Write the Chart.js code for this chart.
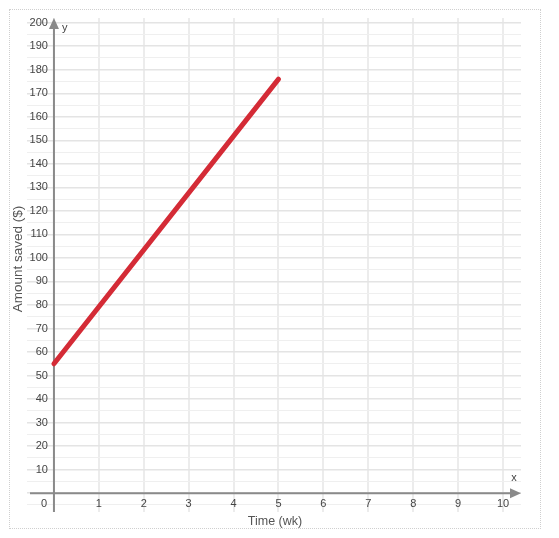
<!DOCTYPE html>
<html>
<head>
<meta charset="utf-8">
<script src="https://cdn.jsdelivr.net/npm/chart.js@4/dist/chart.umd.min.js"></script>
<style>
  body { margin: 0; background: #fff; }
  #frame { position: absolute; left: 9px; top: 9px; width: 530px; height: 518px; border: 1px dotted #cfcfcf; }
  #savingsChart { position: absolute; left: 0; top: 0; }
</style>
</head>
<body>
<div id="frame"></div>
<canvas id="savingsChart" width="559" height="538"></canvas>
<script>
const weeks = [0, 5];
const saved = [55, 176];
const xTicks = [1, 2, 3, 4, 5, 6, 7, 8, 9, 10];
const yTicks = [10, 20, 30, 40, 50, 60, 70, 80, 90, 100, 110, 120, 130, 140, 150, 160, 170, 180, 190, 200];

const FONT = "11px 'Liberation Sans', Arial, sans-serif";
const AXIS = "#8a8a8a";

// axes with arrows, drawn under the line
const axesPlugin = {
  id: "axes",
  beforeDatasetsDraw(chart) {
    const { ctx, chartArea: a } = chart;
    const x = chart.scales.x, y = chart.scales.y;
    const x0 = x.getPixelForValue(0), y0 = y.getPixelForValue(0);
    ctx.save();
    ctx.strokeStyle = AXIS;
    ctx.fillStyle = AXIS;
    ctx.lineWidth = 2;
    ctx.beginPath();
    ctx.moveTo(a.left + 3, y0);
    ctx.lineTo(a.right - 8, y0);
    ctx.moveTo(x0, a.bottom);
    ctx.lineTo(x0, a.top + 8);
    ctx.stroke();
    // arrow heads
    ctx.beginPath();
    ctx.moveTo(a.right, y0);
    ctx.lineTo(a.right - 11, y0 - 5);
    ctx.lineTo(a.right - 11, y0 + 5);
    ctx.closePath();
    ctx.moveTo(x0, a.top);
    ctx.lineTo(x0 - 5, a.top + 11);
    ctx.lineTo(x0 + 5, a.top + 11);
    ctx.closePath();
    ctx.fill();
    ctx.restore();
  },
  afterDraw(chart) {
    const { ctx, chartArea: a } = chart;
    const x = chart.scales.x, y = chart.scales.y;
    const x0 = x.getPixelForValue(0), y0 = y.getPixelForValue(0);
    ctx.save();
    ctx.font = FONT;
    ctx.fillStyle = "#444";
    ctx.textBaseline = "middle";
    ctx.textAlign = "right";
    yTicks.forEach(v => ctx.fillText(String(v), x0 - 6, y.getPixelForValue(v)));
    ctx.textAlign = "center";
    xTicks.forEach(v => ctx.fillText(String(v), x.getPixelForValue(v), y0 + 11));
    ctx.fillText("0", x0 - 10, y0 + 11);
    ctx.fillText("x", a.right - 7, y0 - 15);
    ctx.textAlign = "left";
    ctx.fillText("y", x0 + 8, a.top + 10);
    // titles
    ctx.font = "12.5px 'Liberation Sans', Arial, sans-serif";
    ctx.fillStyle = "#555";
    ctx.textAlign = "center";
    ctx.fillText("Time (wk)", (a.left + a.right) / 2 + 1, y0 + 28);
    ctx.font = "13.5px 'Liberation Sans', Arial, sans-serif";
    ctx.translate(18, 259);
    ctx.rotate(-Math.PI / 2);
    ctx.fillText("Amount saved ($)", 0, 0);
    ctx.restore();
  }
};

const ctx = document.getElementById("savingsChart").getContext("2d");

new Chart(ctx, {
  type: "line",
  data: {
    datasets: [
      {
        data: weeks.map((w, i) => ({ x: w, y: saved[i] })),
        borderColor: "#d42b36",
        borderWidth: 5,
        borderCapStyle: "round",
        pointRadius: 0,
        tension: 0,
      },
    ],
  },
  options: {
    responsive: false,
    animation: false,
    layout: { padding: { left: 27, right: 38, top: 18, bottom: 26 } },
    plugins: { legend: { display: false }, tooltip: { enabled: false } },
    scales: {
      x: {
        type: "linear",
        min: -0.6,
        max: 10.4,
        afterBuildTicks: (s) => {
          s.ticks = [0, ...xTicks].map((v) => ({ value: v }));
        },
        ticks: { display: false },
        border: { display: false },
        grid: { drawTicks: false, color: "#ececec", lineWidth: 2 },
      },
      y: {
        min: -8,
        max: 202,
        afterBuildTicks: (s) => {
          const t = [-5, 0, 5];
          yTicks.forEach((v) => t.push(v, v + 5));
          s.ticks = t.filter((v) => v <= 202).map((v) => ({ value: v }));
        },
        ticks: { display: false },
        border: { display: false },
        grid: {
          drawTicks: false,
          color: (c) => (c.tick && c.tick.value % 10 === 0 ? "#e4e4e4" : "#efefef"),
          lineWidth: (c) => (c.tick && c.tick.value % 10 === 0 ? 1.5 : 1),
        },
      },
    },
  },
  plugins: [axesPlugin],
});
</script>
</body>
</html>
